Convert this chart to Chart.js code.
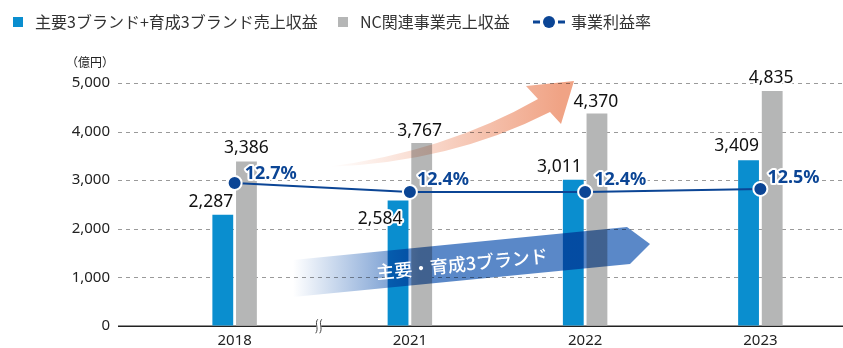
<!DOCTYPE html>
<html>
<head>
  <meta charset="utf-8">
  <title>売上収益と事業利益率</title>
  <script src="https://cdn.jsdelivr.net/npm/chart.js"></script>
  <style>
    html, body { margin: 0; padding: 0; background: #fff; overflow: hidden; }
    #wrap { position: relative; width: 857px; height: 348px; }
  </style>
</head>
<body>
  <div id="wrap">
    <canvas id="salesChart"></canvas>
  </div>

  <script>
    // 年度と各系列
    const years = ['2018', '2021', '2022', '2023'];
    const brandSales = [2287, 2584, 3011, 3409];   // 主要3ブランド+育成3ブランド売上収益
    const ncSales = [3386, 3767, 4370, 4835];      // NC関連事業売上収益
    const profitRate = [12.7, 12.4, 12.4, 12.5];   // 事業利益率(%)
    const yMax = 5000;
    const yStep = 1000;

    const legendLabels = ['主要3ブランド+育成3ブランド売上収益', 'NC関連事業売上収益', '事業利益率'];
    const arrowText = '主要・育成3ブランド';
    const unitText = '（億円）';

    const BLUE = '#0a8ecf';
    const GRAY = '#b5b6b6';
    const NAVY = '#0b4595';
    const NUM_FONT = '"Noto Sans", "DejaVu Sans", sans-serif';
    const JP_FONT = '"Noto Sans CJK JP", "Noto Sans", sans-serif';

    // 棒ラベルのずらし量 [dx, dy]（棒の上端中央から）
    const brandLabelShift = [[-12, -13], [-18, 19], [-14, -13], [-12, -14]];
    const ncLabelShift = [[0, -13], [-2, -12], [-1, -12], [-1, -13]];
    const rateLabelShift = [[10, -9], [7, -12], [9, -12], [7, -11]];

    function haloText(ctx, text, x, y) {
      ctx.lineJoin = 'round';
      ctx.strokeStyle = '#fff';
      ctx.lineWidth = 4;
      ctx.strokeText(text, x, y);
      ctx.fillText(text, x, y);
    }

    // 点線のグリッドと基線（軸の左まで伸ばす）
    const gridPlugin = {
      id: 'gridLines',
      beforeDatasetsDraw(chart) {
        const { ctx, scales: { x, y } } = chart;
        const left = 118, right = chart.width;
        ctx.save();
        ctx.strokeStyle = '#9a9a9a';
        ctx.lineWidth = 1;
        ctx.setLineDash([4, 4]);
        for (let v = yStep; v <= yMax; v += yStep) {
          const py = Math.round(y.getPixelForValue(v)) + 0.5;
          ctx.beginPath();
          ctx.moveTo(left, py);
          ctx.lineTo(right, py);
          ctx.stroke();
        }
        ctx.setLineDash([]);
        ctx.strokeStyle = '#222';
        ctx.lineWidth = 1.5;
        const by = Math.round(y.getPixelForValue(0)) + 0.25;
        ctx.beginPath();
        ctx.moveTo(left, by);
        ctx.lineTo(right, by);
        ctx.stroke();

        // 省略記号（2018と2021の間）
        const bx = (x.getPixelForValue(0) + x.getPixelForValue(1)) / 2 - 3;
        ctx.fillStyle = '#fff';
        ctx.fillRect(bx - 3, by - 6, 5, 12);
        ctx.strokeStyle = '#444';
        ctx.lineWidth = 1;
        [-3, 1].forEach(off => {
          ctx.beginPath();
          ctx.moveTo(bx + off + 1.5, by - 7);
          ctx.bezierCurveTo(bx + off - 2, by - 3, bx + off + 3, by + 2, bx + off - 0.5, by + 7);
          ctx.stroke();
        });
        ctx.restore();
      }
    };

    // 矢印の装飾、数値ラベル、凡例
    const overlayPlugin = {
      id: 'overlay',
      afterDatasetsDraw(chart) {
        const { ctx } = chart;
        ctx.save();

        // 右上がりの曲線矢印（オレンジ）
        ctx.globalCompositeOperation = 'multiply';
        let g = ctx.createLinearGradient(330, 0, 560, 0);
        g.addColorStop(0, '#ffffff');
        g.addColorStop(1, '#f0a385');
        ctx.fillStyle = g;
        ctx.beginPath();
        ctx.moveTo(326, 167);
        ctx.quadraticCurveTo(445, 152, 538, 99);
        ctx.lineTo(526, 86);
        ctx.lineTo(574, 81);
        ctx.lineTo(561, 124);
        ctx.lineTo(550, 112);
        ctx.quadraticCurveTo(450, 163, 326, 167);
        ctx.closePath();
        ctx.fill();

        // 主要・育成3ブランドの帯矢印（青）
        g = ctx.createLinearGradient(293, 0, 420, 0);
        g.addColorStop(0, '#ffffff');
        g.addColorStop(1, '#5a88c8');
        ctx.fillStyle = g;
        ctx.beginPath();
        ctx.moveTo(293, 260);
        ctx.lineTo(627, 227);
        ctx.lineTo(650, 244);
        ctx.lineTo(630, 264);
        ctx.lineTo(293, 297);
        ctx.closePath();
        ctx.fill();
        ctx.globalCompositeOperation = 'source-over';

        ctx.save();
        ctx.translate(462, 264);
        ctx.rotate(-5.7 * Math.PI / 180);
        ctx.fillStyle = '#fff';
        ctx.font = '500 18px ' + JP_FONT;
        ctx.textAlign = 'center';
        ctx.textBaseline = 'middle';
        ctx.fillText(arrowText, 0, 0);
        ctx.restore();

        // 棒の数値ラベル
        ctx.font = '17.5px ' + NUM_FONT;
        ctx.fillStyle = '#111';
        ctx.textAlign = 'center';
        ctx.textBaseline = 'middle';
        const fmt = v => v.toLocaleString('en-US');
        chart.getDatasetMeta(0).data.forEach((bar, i) => {
          const [dx, dy] = brandLabelShift[i];
          haloText(ctx, fmt(brandSales[i]), bar.x + dx, bar.y + dy);
        });
        chart.getDatasetMeta(1).data.forEach((bar, i) => {
          const [dx, dy] = ncLabelShift[i];
          haloText(ctx, fmt(ncSales[i]), bar.x + dx, bar.y + dy);
        });

        // 利益率ラベル
        ctx.font = 'bold 18px ' + NUM_FONT;
        ctx.fillStyle = NAVY;
        ctx.textAlign = 'left';
        chart.getDatasetMeta(2).data.forEach((pt, i) => {
          const [dx, dy] = rateLabelShift[i];
          haloText(ctx, profitRate[i].toFixed(1) + '%', pt.x + dx, pt.y + dy);
        });

        // 単位
        ctx.font = '12px ' + JP_FONT;
        ctx.fillStyle = '#222';
        ctx.textAlign = 'right';
        ctx.fillText(unitText, 114, 62);

        // 凡例
        ctx.font = '16px ' + JP_FONT;
        ctx.textAlign = 'left';
        ctx.fillStyle = BLUE;
        ctx.fillRect(13, 17, 10, 10);
        ctx.fillStyle = GRAY;
        ctx.fillRect(338, 17, 10, 10);
        ctx.fillStyle = '#333';
        ctx.fillText(legendLabels[0], 35, 22);
        ctx.fillText(legendLabels[1], 360, 22);
        ctx.fillText(legendLabels[2], 571, 22);
        ctx.strokeStyle = NAVY;
        ctx.lineWidth = 3;
        ctx.beginPath();
        ctx.moveTo(533, 22); ctx.lineTo(540, 22);
        ctx.moveTo(558, 22); ctx.lineTo(565, 22);
        ctx.stroke();
        ctx.fillStyle = NAVY;
        ctx.beginPath();
        ctx.arc(549, 22, 6, 0, Math.PI * 2);
        ctx.fill();

        ctx.restore();
      }
    };

    new Chart(document.getElementById('salesChart'), {
      data: {
        labels: years,
        datasets: [
          {
            type: 'bar',
            label: legendLabels[0],
            data: brandSales,
            backgroundColor: BLUE,
            yAxisID: 'y',
            order: 2,
            categoryPercentage: 0.27,
            barPercentage: 0.88
          },
          {
            type: 'bar',
            label: legendLabels[1],
            data: ncSales,
            backgroundColor: GRAY,
            yAxisID: 'y',
            order: 2,
            categoryPercentage: 0.27,
            barPercentage: 0.88
          },
          {
            type: 'line',
            label: legendLabels[2],
            data: profitRate,
            yAxisID: 'yRate',
            borderColor: NAVY,
            borderWidth: 2,
            pointBackgroundColor: NAVY,
            pointBorderColor: '#fff',
            pointBorderWidth: 2,
            pointRadius: 7,
            tension: 0,
            order: 1
          }
        ]
      },
      options: {
        responsive: true,
        maintainAspectRatio: false,
        animation: false,
        layout: { padding: { top: 83, left: 0, right: 0, bottom: 0 } },
        plugins: {
          legend: { display: false },
          tooltip: { enabled: false }
        },
        scales: {
          x: {
            grid: { display: false },
            border: { display: false },
            ticks: { color: '#222', font: { family: NUM_FONT, size: 15 }, padding: -2 },
            afterFit(scale) { scale.height = 22; }
          },
          y: {
            min: 0,
            max: yMax,
            // 目盛り線は透明にして、ラベルを軸から離す余白に使う
            grid: { display: true, drawOnChartArea: false, drawTicks: true, tickLength: 37, tickColor: 'rgba(0,0,0,0)' },
            border: { display: false },
            ticks: {
              stepSize: yStep,
              color: '#222',
              padding: 0,
              font: { family: NUM_FONT, size: 15 },
              callback: v => v.toLocaleString('en-US')
            },
            afterFit(scale) { scale.width = 147; }
          },
          yRate: {
            type: 'linear',
            axis: 'y',
            position: 'right',
            display: false,
            min: 7.93,
            max: 16.03
          }
        }
      },
      plugins: [gridPlugin, overlayPlugin]
    });
  </script>
</body>
</html>
